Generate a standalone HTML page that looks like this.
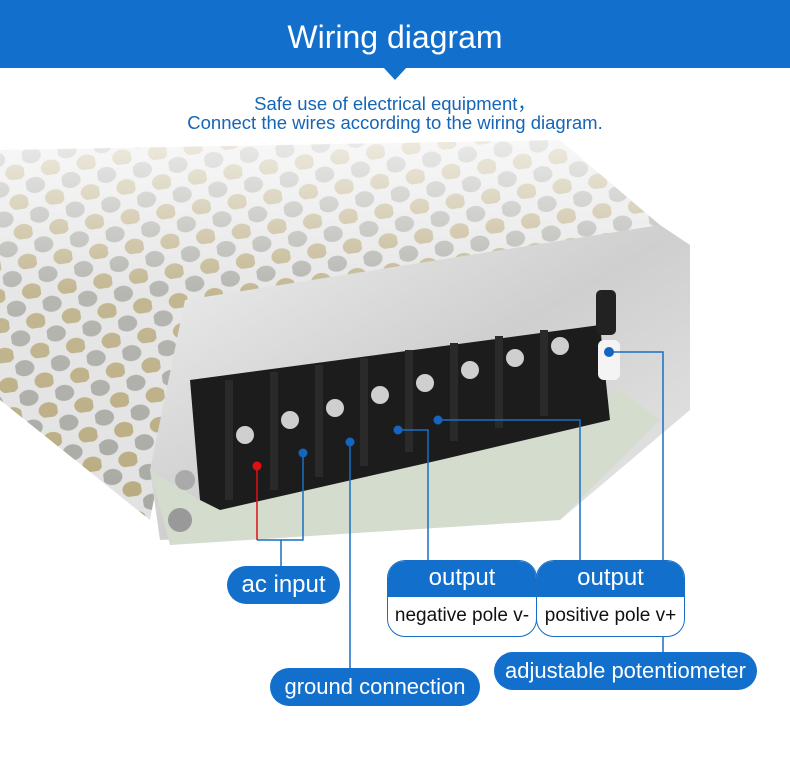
<!DOCTYPE html>
<html><head><meta charset="utf-8"><style>
body{margin:0;width:790px;height:758px;background:#fff;overflow:hidden;font-family:"Liberation Sans",sans-serif;position:relative}
.hdr{position:absolute;left:0;top:0;width:790px;height:68px;background:#1270cc;color:#fff;font-size:32px;text-align:center;line-height:74px}
.tri{position:absolute;left:383px;top:67px;width:0;height:0;border-left:12px solid transparent;border-right:12px solid transparent;border-top:13px solid #1270cc}
.sub{position:absolute;left:0;width:790px;text-align:center;color:#1565b8;font-size:18.5px}
.pill{position:absolute;background:#1270cc;color:#fff;border-radius:19px;text-align:center;font-size:22px}
.box{position:absolute;border:1.5px solid #1a6fc4;border-radius:18px;overflow:hidden;background:#fff}
.box .t{background:#1270cc;color:#fff;font-size:24px;text-align:center;height:36px;line-height:34px}
.box .b{font-size:19px;color:#111;text-align:center;line-height:38px;white-space:nowrap}
svg{position:absolute;left:0;top:0}
</style></head><body>
<svg width="790" height="758">
<defs>
<pattern id="holes" width="36" height="30" patternUnits="userSpaceOnUse" patternTransform="rotate(-8)">
<rect width="36" height="30" fill="#e2e2e2"/>
<ellipse cx="9" cy="8" rx="10" ry="8" fill="#a9a9a4"/>
<ellipse cx="27" cy="23" rx="10" ry="8" fill="#b9ab80"/>
</pattern>
<linearGradient id="fade" x1="0" y1="0" x2="0" y2="1">
<stop offset="0" stop-color="#fff" stop-opacity="0.75"/><stop offset="0.4" stop-color="#fff" stop-opacity="0.15"/><stop offset="1" stop-color="#fff" stop-opacity="0"/></linearGradient>
<linearGradient id="face" x1="0" y1="0" x2="1" y2="1">
<stop offset="0" stop-color="#f0f0f0"/><stop offset="0.5" stop-color="#cfcfcf"/><stop offset="1" stop-color="#e8e8e8"/></linearGradient>
</defs>
<polygon points="0,150 560,140 660,225 190,310 150,520 0,400" fill="url(#holes)"/>
<polygon points="0,140 580,140 660,225 190,310 150,520 0,400" fill="url(#fade)"/>
<polygon points="185,300 660,225 690,245 690,410 560,520 160,540 150,470" fill="url(#face)"/>
<polygon points="150,470 200,500 560,420 620,390 660,420 560,520 170,545" fill="#d3dccd"/>
<polygon points="190,380 600,325 610,420 440,460 220,510 200,500" fill="#1c1c1c"/>
<g fill="#2a2a2a">
<rect x="225" y="380" width="8" height="120"/><rect x="270" y="372" width="8" height="118"/><rect x="315" y="365" width="8" height="112"/><rect x="360" y="358" width="8" height="108"/><rect x="405" y="350" width="8" height="102"/><rect x="450" y="343" width="8" height="98"/><rect x="495" y="336" width="8" height="92"/><rect x="540" y="330" width="8" height="86"/></g>
<g fill="#cfcfcf">
<circle cx="245" cy="435" r="9"/><circle cx="290" cy="420" r="9"/><circle cx="335" cy="408" r="9"/><circle cx="380" cy="395" r="9"/><circle cx="425" cy="383" r="9"/><circle cx="470" cy="370" r="9"/><circle cx="515" cy="358" r="9"/><circle cx="560" cy="346" r="9"/></g>
<circle cx="185" cy="480" r="10" fill="#aaa"/><circle cx="180" cy="520" r="12" fill="#999"/>
<rect x="598" y="340" width="22" height="40" rx="6" fill="#f4f4f4"/>
<rect x="596" y="290" width="20" height="45" rx="5" fill="#222"/>
<g stroke="#1a6fc4" stroke-width="1.5" fill="none">
<polyline points="303,453 303,540 257,540"/>
<line x1="281" y1="540" x2="281" y2="566"/>
<line x1="350" y1="442" x2="350" y2="668"/>
<polyline points="398,430 428,430 428,560"/>
<polyline points="438,420 580,420 580,560"/>
<polyline points="609,352 663,352 663,653"/>
</g>
<polyline points="257,466 257,540" stroke="#e01010" stroke-width="1.5" fill="none"/>
<circle cx="257" cy="466" r="4.5" fill="#e01010"/>
<g fill="#1565c0"><circle cx="303" cy="453" r="4.5"/><circle cx="350" cy="442" r="4.5"/><circle cx="398" cy="430" r="4.5"/><circle cx="438" cy="420" r="4.5"/><circle cx="609" cy="352" r="5"/></g>
</svg>
<div class="hdr">Wiring diagram</div><div class="tri"></div>
<div class="sub" style="top:90px">Safe use of electrical equipment，</div>
<div class="sub" style="top:112px">Connect the wires according to the wiring diagram.</div>
<div class="pill" style="left:227px;top:566px;width:113px;height:38px;line-height:38px;font-size:24px">ac input</div>
<div class="box" style="left:387px;top:560px;width:148px;height:75px"><div class="t">output</div><div class="b">negative pole v-</div></div>
<div class="box" style="left:536px;top:560px;width:147px;height:75px"><div class="t">output</div><div class="b">positive pole v+</div></div>
<div class="pill" style="left:270px;top:668px;width:210px;height:38px;line-height:38px">ground connection</div>
<div class="pill" style="left:494px;top:652px;width:263px;height:38px;line-height:38px">adjustable potentiometer</div>
</body></html>
